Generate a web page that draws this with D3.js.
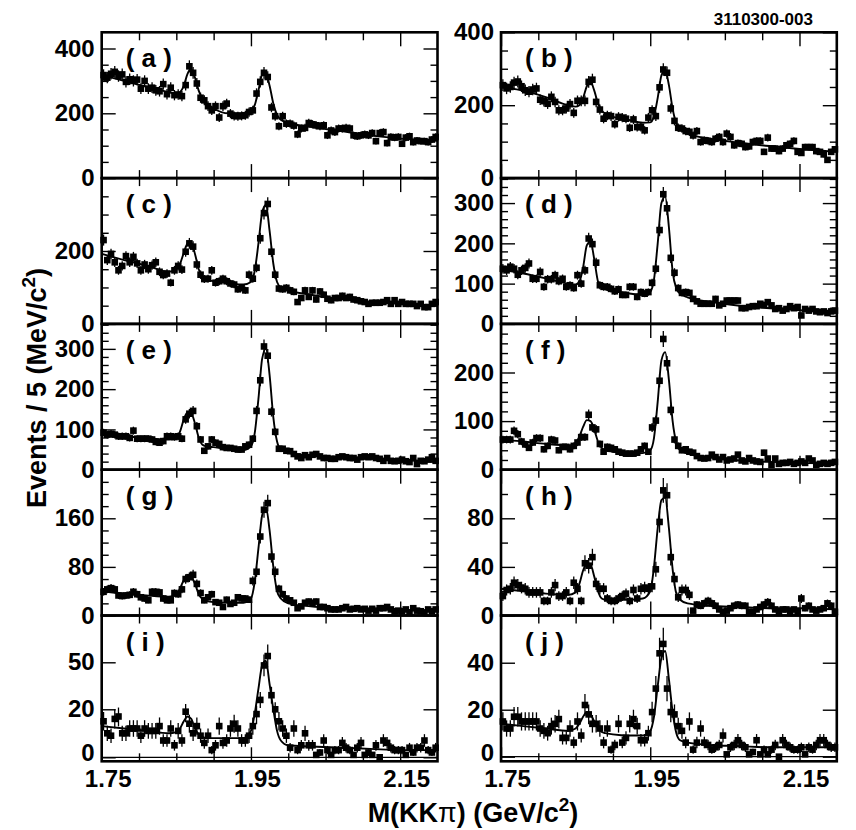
<!DOCTYPE html>
<html>
<head>
<meta charset="utf-8">
<script src="https://cdn.jsdelivr.net/npm/d3@7"></script>
<style>
  body { margin: 0; background: #fff; }
  text { font-family: "Liberation Sans", Arial, Helvetica, sans-serif; font-weight: bold; fill: #000; }
</style>
</head>
<body>
<svg id="chart"></svg>
<script>
// ---------------- DATA ----------------
const massRange = [1.75, 2.20];      // GeV/c^2
const binWidth = 0.005;              // 5 MeV bins
const panelLabels = ["a","b","c","d","e","f","g","h","i","j"];
const xMajorTicks = [1.75, 1.95, 2.15];
const xTickLabels = ["1.75", "1.95", "2.15"];

const countsA = [318,310,322,328,315,320,297,305,300,304,276,300,276,279,271,268,290,259,279,256,258,253,287,345,325,292,248,240,222,209,222,187,222,230,199,192,191,192,194,204,209,261,297,325,312,218,191,160,191,168,168,162,135,153,155,170,166,163,160,163,132,147,142,153,153,155,153,132,129,132,135,132,139,114,139,142,108,127,125,127,106,125,129,111,116,114,114,111,119,127];
const countsB = [255,246,250,262,265,252,241,237,243,246,215,211,204,223,209,186,186,191,203,179,212,212,212,264,270,209,188,163,172,170,148,168,166,163,138,161,140,140,131,166,186,170,249,298,289,191,157,138,136,129,127,117,129,99,104,102,99,108,113,99,122,113,90,96,94,85,87,99,102,102,72,111,81,81,74,81,90,94,102,72,69,85,85,85,74,72,65,50,72,79];
const countsC = [230,175,192,169,147,159,186,169,184,166,147,163,150,161,169,143,134,138,113,147,159,149,198,221,212,163,135,123,124,147,113,117,124,117,111,108,95,99,92,135,124,154,235,304,329,198,135,97,95,99,92,88,60,71,92,74,92,67,89,80,69,65,71,71,77,71,74,67,65,62,60,55,58,58,58,60,65,55,65,55,60,55,55,55,49,55,46,46,55,60];
const countsD = [137,133,142,137,122,133,139,150,112,112,129,92,111,111,121,106,112,92,96,89,121,100,133,212,198,152,96,92,92,87,81,86,72,72,92,92,67,79,75,79,102,137,233,322,287,164,127,89,77,79,77,62,56,50,50,50,50,62,46,50,58,58,58,58,39,39,42,44,44,50,47,54,46,37,39,33,37,44,39,42,21,37,33,37,31,29,31,27,31,33];
const countsE = [92,87,89,87,83,83,83,79,97,77,77,77,77,75,69,67,71,83,83,81,83,77,125,139,146,108,75,47,58,75,67,64,56,54,54,52,50,50,58,62,77,146,222,306,283,144,94,52,52,47,46,39,33,29,36,31,37,39,33,29,29,27,27,31,33,31,29,29,25,31,33,31,33,29,27,22,29,22,21,22,25,21,19,29,14,22,21,25,31,22];
const countsF = [62,62,62,80,73,58,52,45,56,65,65,42,49,62,60,40,47,47,42,49,56,67,67,113,87,83,53,37,47,45,42,37,35,33,33,33,35,42,49,37,87,101,183,269,219,123,62,49,40,42,37,35,28,24,23,24,31,26,21,26,19,21,23,31,19,17,24,19,17,16,35,23,10,23,12,14,14,16,12,14,17,14,23,19,10,12,14,12,14,16];
const countsG = [39,43,45,43,33,32,33,34,39,35,30,28,25,39,39,38,28,25,25,37,35,43,60,63,67,52,37,25,30,35,22,21,14,26,19,21,30,28,28,26,57,72,130,174,185,97,72,44,35,28,25,21,12,15,21,23,21,23,14,14,12,10,10,10,12,14,10,11,12,10,11,8,11,8,12,12,14,10,7,8,7,10,5,12,8,7,5,10,7,10];
const countsH = [16,21,22,27,25,23,22,19,19,19,19,12,12,19,25,16,16,19,12,27,22,12,43,41,48,26,22,22,14,12,12,14,16,18,12,21,14,22,23,22,24,38,77,103,99,48,30,15,21,21,17,4,9,8,10,12,10,8,5,3,4,6,8,9,8,8,3,3,5,7,9,11,8,5,3,5,5,3,5,3,14,6,8,5,4,5,6,10,8,3];
const countsI = [15,10,9,16,17,10,10,12,12,12,9,12,11,11,11,13,7,7,12,5,11,7,19,14,10,13,9,6,9,3,5,13,6,7,12,14,12,7,7,9,13,18,26,48,54,29,20,15,12,9,4,12,3,5,10,5,5,1,2,7,3,1,3,3,6,4,3,1,4,6,1,2,1,5,0,7,6,4,3,3,3,1,4,2,4,4,7,3,2,4];
const countsJ = [15,12,12,17,17,15,15,15,15,15,12,11,10,13,14,16,8,8,12,6,15,9,22,18,14,14,12,6,12,3,5,14,6,8,14,16,13,7,7,10,19,29,44,48,29,19,18,13,11,6,15,3,6,12,6,5,3,4,5,9,1,4,5,7,5,4,1,2,7,1,3,1,3,5,0,7,5,4,3,3,4,1,4,3,5,7,7,5,4,4];

// fit curves at these masses
const fitMass = [1.75,1.78,1.81,1.84,1.85,1.855,1.86,1.865,1.87,1.875,1.88,1.885,1.89,1.90,1.92,1.94,1.95,1.955,1.96,1.965,1.97,1.975,1.98,1.985,1.99,2.00,2.03,2.07,2.11,2.15,2.20];
const fitA = [318,300,282,265,260,265,285,322,336,310,270,245,232,215,200,200,207,225,270,318,322,285,230,195,180,170,158,145,132,122,115];
const fitB = [250,240,222,200,196,200,220,252,264,240,205,185,176,168,160,152,153,170,220,282,296,255,190,150,135,122,108,97,88,80,72];
const fitC = [192,175,160,143,150,165,195,220,222,192,150,130,122,117,112,108,115,145,220,305,326,255,165,115,100,92,80,68,60,55,50];
const fitD = [135,125,113,100,98,105,140,195,205,160,105,90,86,82,76,72,80,110,200,300,316,240,130,88,75,66,55,45,39,34,28];
const fitE = [90,84,78,75,78,95,125,142,140,115,80,62,58,56,52,49,58,90,175,275,300,235,130,70,50,42,35,30,27,24,21];
const fitF = [62,58,53,50,55,68,88,102,100,82,58,45,40,37,33,34,40,65,140,225,242,185,100,55,40,33,25,19,16,14,13];
const fitG = [40,36,33,31,34,45,58,64,63,52,35,27,24,22,21,21,28,55,110,165,178,140,80,40,28,20,15,12,10,9,8];
const fitH = [22,20,18,17,19,26,37,43,42,32,20,14,13,13,13,14,20,40,72,95,97,72,38,18,13,10,8,7,6,6,5];
const fitI = [13,12,11,10,10.5,12,15,17,16,12,9.5,8.5,8,8,8,8,11,18,33,48,51,36,20,11,7,5,4.5,4,3.5,3,3];
const fitJ = [14,13,12,11,12,14,17,19,18,15,12,10.5,10,9.5,9,9,11,17,30,42,45,33,19,10,7,6,5,4.5,4,4,4];

// y-axis label ticks and ranges
const yTicksA = [0,200,400], yTicksB = [0,200,400], yTicksC = [0,200];
const yTicksD = [0,100,200,300], yTicksE = [0,100,200,300], yTicksF = [0,100,200];
const yTicksG = [0,80,160], yTicksH = [0,40,80], yTicksI = [0,20,50], yTicksJ = [0,20,40];
const yMinorSteps = [50,50,50,20,20,20,20,20,0,0];
const yRanges = [[0,450],[0,400],[0,400],[0,362],[0,362],[0,300],[0,240],[0,120],[-1.7,80],[-1.96,60.1]];

const codeLabel = "3110300-003";

// ---------------- LAYOUT ----------------
const W = 856, H = 830;
const colX = [101.7, 501];
const panelW = 335.8;
const top0 = 32.3, panelH = 145.8;
const font = '"Liberation Sans", Arial, Helvetica, sans-serif';

const svg = d3.select("#chart").attr("width", W).attr("height", H);

const countsAll = [countsA,countsB,countsC,countsD,countsE,countsF,countsG,countsH,countsI,countsJ];
const fitsAll = [fitA,fitB,fitC,fitD,fitE,fitF,fitG,fitH,fitI,fitJ];
const yTicksAll = [yTicksA,yTicksB,yTicksC,yTicksD,yTicksE,yTicksF,yTicksG,yTicksH,yTicksI,yTicksJ];

const xMinor = d3.range(0, 10).map(k => +(massRange[0] + 0.05 * k).toFixed(2))
  .filter(v => v > massRange[0] && v < massRange[1] && !xMajorTicks.includes(v));

function styleText(sel, size) {
  sel.selectAll("text")
    .attr("font-family", font).attr("font-weight", "bold").attr("font-size", size).attr("fill", "#000");
}
function styleTicks(sel) {
  sel.select(".domain").remove();
  sel.selectAll(".tick line").attr("stroke", "#000").attr("stroke-width", 1.4);
}

panelLabels.forEach((lab, p) => {
  const col = p % 2, row = Math.floor(p / 2);
  const left = colX[col], right = left + panelW;
  const top = top0 + row * panelH, bottom = top + panelH;
  const x = d3.scaleLinear().domain(massRange).range([left, right]);
  const [yMin, yMax] = yRanges[p];
  let y;
  if (lab === "i") {
    // axis of panel (i) as printed: labels 0, 20, 50 at uneven spacing
    y = d3.scaleLinear().domain([yMin, 0, 20, 50, yMax])
      .range([bottom, top + panelH * 0.9726, top + panelH * 0.6433, top + panelH * 0.321, top]);
  } else {
    y = d3.scaleLinear().domain([yMin, yMax]).range([bottom, top]);
  }
  const g = svg.append("g");

  // x ticks (top and bottom, inward)
  const isBottom = row === 4;
  g.append("g").attr("transform", `translate(0,${bottom})`)
    .call(d3.axisBottom(x).tickValues(xMajorTicks).tickSize(-14).tickPadding(9)
      .tickFormat((d, i) => isBottom ? xTickLabels[i] : ""))
    .call(styleTicks).call(s => styleText(s, 24)).call(s => s.selectAll("text").attr("dx", 6));
  g.append("g").attr("transform", `translate(0,${bottom})`)
    .call(d3.axisBottom(x).tickValues(xMinor).tickSize(-8).tickFormat(""))
    .call(styleTicks);
  g.append("g").attr("transform", `translate(0,${top})`)
    .call(d3.axisTop(x).tickValues(xMajorTicks).tickSize(-14).tickFormat(""))
    .call(styleTicks);
  g.append("g").attr("transform", `translate(0,${top})`)
    .call(d3.axisTop(x).tickValues(xMinor).tickSize(-8).tickFormat(""))
    .call(styleTicks);

  // y ticks
  const majors = yTicksAll[p];
  const step = yMinorSteps[p];
  const minors = step > 0 ? d3.range(step, yMax, step).filter(v => !majors.includes(v)) : [];
  g.append("g").attr("transform", `translate(${left},0)`)
    .call(d3.axisLeft(y).tickValues(majors).tickSize(-14).tickPadding(7).tickFormat(d3.format("d")))
    .call(styleTicks).call(s => styleText(s, 24))
    .call(s => {
      // in the bottom row the "0" label sits a little above the zero line
      if (yMin < 0) s.selectAll(".tick text").filter(d => d === 0).attr("y", -4);
    });
  g.append("g").attr("transform", `translate(${right},0)`)
    .call(d3.axisRight(y).tickValues(majors).tickSize(-14).tickFormat(""))
    .call(styleTicks);
  if (minors.length) {
    g.append("g").attr("transform", `translate(${left},0)`)
      .call(d3.axisLeft(y).tickValues(minors).tickSize(-7).tickFormat(""))
      .call(styleTicks);
    g.append("g").attr("transform", `translate(${right},0)`)
      .call(d3.axisRight(y).tickValues(minors).tickSize(-7).tickFormat(""))
      .call(styleTicks);
  }

  // zero line when the range dips below zero
  if (yMin < 0) {
    g.append("line").attr("x1", left).attr("x2", right)
      .attr("y1", y(0)).attr("y2", y(0)).attr("stroke", "#000").attr("stroke-width", 1.3);
  }

  // data points
  const pts = countsAll[p].map((v, i) => ({ m: massRange[0] + binWidth * (i + 0.5), v, e: Math.sqrt(v) }));
  g.append("g").selectAll("line").data(pts).join("line")
    .attr("x1", d => x(d.m)).attr("x2", d => x(d.m))
    .attr("y1", d => y(d.v - d.e)).attr("y2", d => y(d.v + d.e))
    .attr("stroke", "#000").attr("stroke-width", 1.3);
  const ms = 6.6;
  g.append("g").selectAll("rect").data(pts).join("rect")
    .attr("x", d => x(d.m) - ms / 2).attr("y", d => y(d.v) - ms / 2)
    .attr("width", ms).attr("height", ms).attr("fill", "#000");

  // fit curve
  const line = d3.line().x(d => x(d[0])).y(d => y(d[1])).curve(d3.curveMonotoneX);
  g.append("path").datum(fitMass.map((m, i) => [m, fitsAll[p][i]]))
    .attr("d", line).attr("fill", "none").attr("stroke", "#000").attr("stroke-width", 1.9);

  // frame
  g.append("rect").attr("x", left).attr("y", top).attr("width", panelW).attr("height", panelH)
    .attr("fill", "none").attr("stroke", "#000").attr("stroke-width", 2.6);

  // panel label
  g.append("text").attr("x", left + 24).attr("y", top + 35)
    .attr("font-size", 26).style("white-space", "pre").text(`( ${lab} )`);
});

// titles
svg.append("text").attr("x", 813).attr("y", 25).attr("text-anchor", "end")
  .attr("font-size", 17).text(codeLabel);

const yt = svg.append("text").attr("transform", "translate(46,388) rotate(-90)")
  .attr("text-anchor", "middle").attr("font-size", 27);
yt.append("tspan").text("Events / 5 (MeV/c");
yt.append("tspan").attr("font-size", 19).attr("dy", -11).text("2");
yt.append("tspan").attr("dy", 11).text(")");

const xt = svg.append("text").attr("x", 473).attr("y", 822)
  .attr("text-anchor", "middle").attr("font-size", 27);
xt.append("tspan").text("M(KK");
xt.append("tspan").attr("font-weight", "normal").text("π");
xt.append("tspan").text(") (GeV/c");
xt.append("tspan").attr("font-size", 19).attr("dy", -11).text("2");
xt.append("tspan").attr("dy", 11).text(")");
</script>
</body>
</html>
